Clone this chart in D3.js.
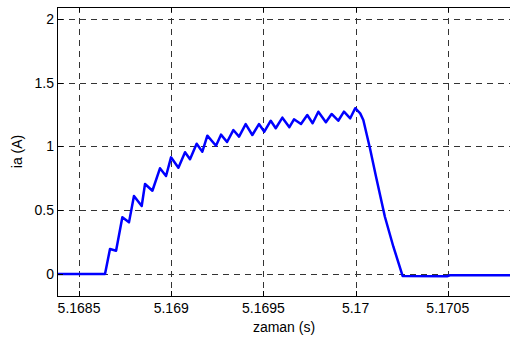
<!DOCTYPE html>
<html>
<head>
<meta charset="utf-8">
<script src="https://cdn.jsdelivr.net/npm/d3@7"></script>
<style>
  html, body { margin: 0; padding: 0; background: #fff; }
  svg { display: block; }
  text { font-family: "Liberation Sans", Arial, Helvetica, sans-serif; font-size: 14px; fill: #000; }
</style>
</head>
<body>
<svg id="chart" width="510" height="338"></svg>
<script>
// Phase current ia (A) over time (s)
const time = [
  5.168386, 5.168641, 5.168668, 5.168701, 5.168735, 5.168771, 5.168798, 5.168840,
  5.168858, 5.168898, 5.168939, 5.168972, 5.168999, 5.169039, 5.169075, 5.169102,
  5.169138, 5.169169, 5.169196, 5.169243, 5.169270, 5.169303, 5.169337, 5.169368,
  5.169404, 5.169440, 5.169476, 5.169505, 5.169540, 5.169567, 5.169603, 5.169641,
  5.169666, 5.169704, 5.169738, 5.169767, 5.169798, 5.169839, 5.169870, 5.169906,
  5.169937, 5.169971, 5.169998, 5.170025, 5.170042, 5.170078, 5.170111, 5.170159,
  5.170205, 5.170255, 5.170496, 5.170512, 5.170843
];
const current = [
  0.000, 0.000, 0.196, 0.183, 0.445, 0.405, 0.612, 0.533,
  0.706, 0.653, 0.829, 0.769, 0.915, 0.834, 0.955, 0.900,
  1.022, 0.959, 1.085, 1.006, 1.093, 1.035, 1.129, 1.077,
  1.176, 1.090, 1.176, 1.116, 1.202, 1.143, 1.226, 1.151,
  1.213, 1.176, 1.247, 1.182, 1.273, 1.190, 1.255, 1.202,
  1.273, 1.221, 1.300, 1.260, 1.208, 0.986, 0.763, 0.449,
  0.214, -0.015, -0.018, -0.010, -0.010
];
const xTicks = [5.1685, 5.169, 5.1695, 5.17, 5.1705];
const xTickLabels = ["5.1685", "5.169", "5.1695", "5.17", "5.1705"];
const yTicks = [0, 0.5, 1, 1.5, 2];
const yTickLabels = ["0", "0.5", "1", "1.5", "2"];
const xLabel = "zaman (s)";
const yLabel = "ia (A)";

const svg = d3.select("#chart");
const plotL = 58, plotR = 511, plotT = 7, plotB = 296;

const x = d3.scaleLinear().domain([5.168386, 5.170843]).range([plotL, plotR]);
const y = d3.scaleLinear().domain([-0.1725, 2.094]).range([plotB, plotT]);

const snap = v => Math.round(v) + 0.5;

// dashed grid at every tick
const grid = svg.append("g").attr("stroke", "#333").attr("stroke-width", 1)
  .attr("stroke-dasharray", "6,5").attr("fill", "none");
grid.selectAll(".gx").data(xTicks).join("line")
  .attr("x1", d => snap(x(d))).attr("x2", d => snap(x(d)))
  .attr("y1", plotT).attr("y2", plotB);
grid.selectAll(".gy").data(yTicks).join("line")
  .attr("x1", plotL).attr("x2", plotR)
  .attr("y1", d => snap(y(d))).attr("y2", d => snap(y(d)));

// data line
const clipId = "plotClip";
svg.append("clipPath").attr("id", clipId).append("rect")
  .attr("x", plotL).attr("y", plotT).attr("width", plotR - plotL).attr("height", plotB - plotT);
const pts = time.map((t, i) => [t, current[i]]);
svg.append("path")
  .datum(pts)
  .attr("clip-path", `url(#${clipId})`)
  .attr("fill", "none")
  .attr("stroke", "#0000ff")
  .attr("stroke-width", 2.5)
  .attr("stroke-linejoin", "round")
  .attr("d", d3.line().x(d => x(d[0])).y(d => y(d[1])));

// axes box
const box = svg.append("g").attr("stroke", "#000").attr("stroke-width", 1).attr("fill", "none");
box.append("line").attr("x1", plotL - 0.5).attr("x2", plotR).attr("y1", plotT + 0.5).attr("y2", plotT + 0.5);
box.append("line").attr("x1", plotL - 0.5).attr("x2", plotR).attr("y1", plotB + 0.5).attr("y2", plotB + 0.5);
box.append("line").attr("x1", plotL - 0.5).attr("x2", plotL - 0.5).attr("y1", plotT).attr("y2", plotB + 1);

// inward ticks
const tickLen = 5;
xTicks.forEach(d => {
  const px = snap(x(d));
  box.append("line").attr("x1", px).attr("x2", px).attr("y1", plotB).attr("y2", plotB - tickLen);
  box.append("line").attr("x1", px).attr("x2", px).attr("y1", plotT).attr("y2", plotT + tickLen);
});
yTicks.forEach(d => {
  const py = snap(y(d));
  box.append("line").attr("x1", plotL).attr("x2", plotL + tickLen).attr("y1", py).attr("y2", py);
});

// tick labels
svg.selectAll(".xl").data(xTicks).join("text")
  .attr("x", d => x(d)).attr("y", 313)
  .attr("text-anchor", "middle")
  .text((d, i) => xTickLabels[i]);
svg.selectAll(".yl").data(yTicks).join("text")
  .attr("x", 54).attr("y", d => y(d) + 5)
  .attr("text-anchor", "end")
  .text((d, i) => yTickLabels[i]);

// axis titles
svg.append("text").attr("x", (plotL + 510) / 2).attr("y", 332)
  .attr("text-anchor", "middle").text(xLabel);
svg.append("text")
  .attr("transform", `translate(22,${(plotT + plotB) / 2}) rotate(-90)`)
  .attr("text-anchor", "middle").text(yLabel);
</script>
</body>
</html>
